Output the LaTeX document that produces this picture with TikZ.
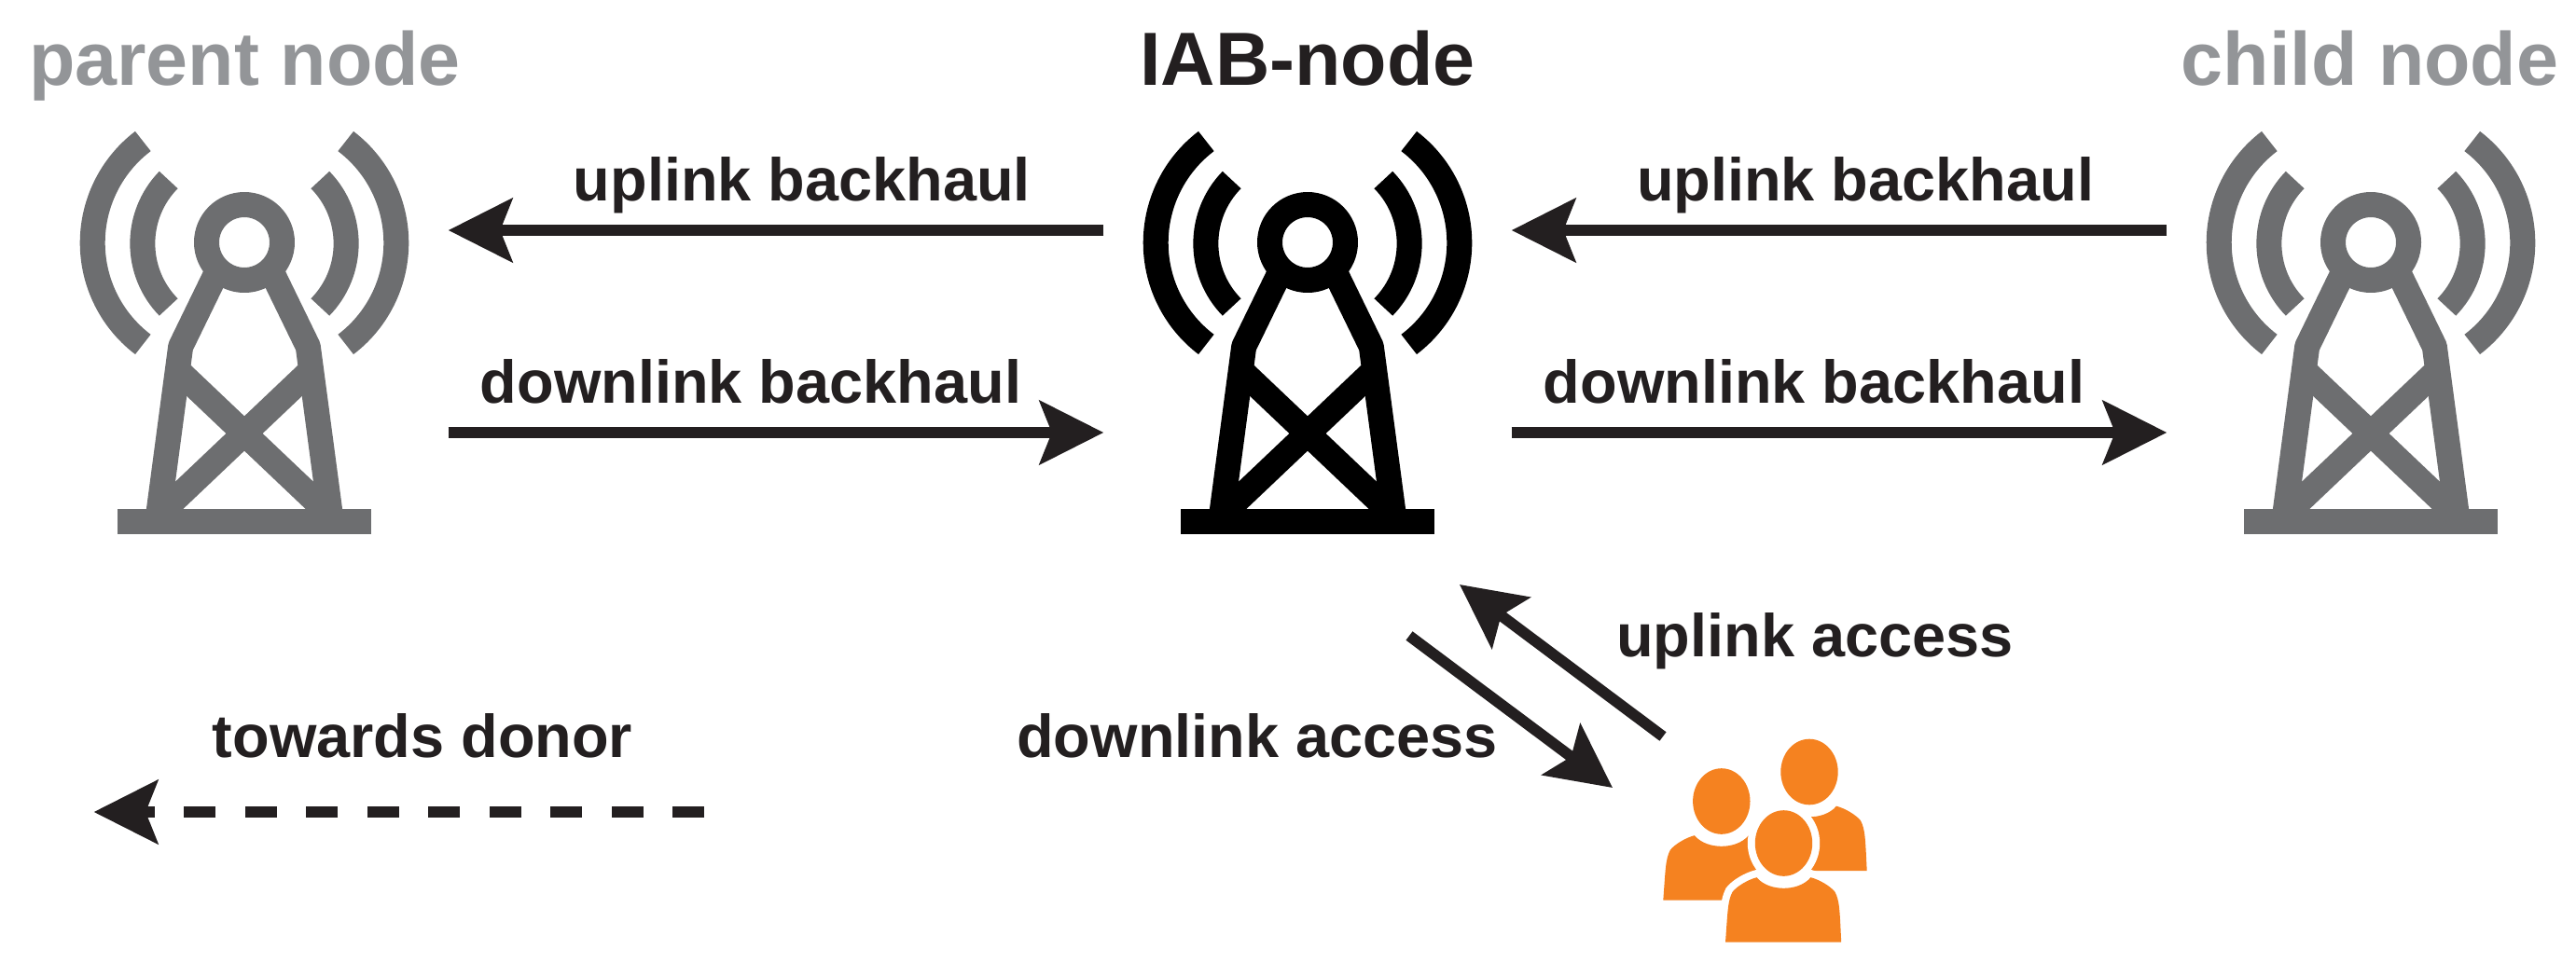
\documentclass[tikz,border=0pt]{standalone}
\usepackage{fontspec}
\setmainfont{Liberation Sans}
\usetikzlibrary{arrows.meta}
\definecolor{r35g31b32}{RGB}{35,31,32}
\definecolor{r109g110b112}{RGB}{109,110,112}
\definecolor{r147g149b152}{RGB}{147,149,152}
\definecolor{r245g130b32}{RGB}{245,130,32}
\tikzset{
  titletext/.style={anchor=base,inner sep=0pt,font=\fontsize{23}{27}\selectfont\bfseries},
  linktext/.style={anchor=base,inner sep=0pt,text=r35g31b32,font=\fontsize{18.45}{22}\selectfont\bfseries},
  linkarrow/.style={draw=r35g31b32,line width=0.118cm,-{Stealth[length=0.685cm,width=0.68cm,inset=0.13cm]}},
  pics/tower/.style={code={
    % box that the links end on
    \node [minimum width=4.36cm,minimum height=4cm,inner sep=0pt] (-box) at (0,0) {};
    \begin{scope}[draw=#1,fill=#1,line width=0.27cm,line join=round]
      \draw (0,0.95) circle (0.405);
      \draw (-0.30,0.62) -- (-0.683,-0.167) -- (-0.92,-1.95);
      \draw (0.30,0.62) -- (0.683,-0.167) -- (0.92,-1.95);
      \draw (-0.72,-0.416) -- (0.895,-1.95);
      \draw (0.72,-0.416) -- (-0.895,-1.95);
      \draw (-1.087,2.035) arc (127.2:232.8:1.368);
      \draw (1.087,2.035) arc (52.8:-52.8:1.368);
      \draw (-0.813,1.62) arc (135.6:224.4:0.975);
      \draw (0.813,1.62) arc (44.4:-44.4:0.975);
      \fill (-1.358,-1.91) rectangle (1.358,-2.183);
    \end{scope}
  }},
  pics/person/.style={code={
    \fill [r245g130b32,preaction={draw=white,line width=0.16cm}] (0,0) ellipse (0.307 and 0.353);
    \fill [r245g130b32,preaction={draw=white,line width=0.16cm}]
      (-0.625,-1.062) .. controls (-0.60,-0.72) and (-0.60,-0.62) .. (-0.55,-0.523)
      .. controls (-0.50,-0.46) and (-0.381,-0.39) .. (-0.29,-0.367)
      .. controls (-0.219,-0.45) and (-0.104,-0.483) .. (0,-0.483)
      .. controls (0.104,-0.483) and (0.219,-0.45) .. (0.29,-0.367)
      .. controls (0.381,-0.39) and (0.50,-0.46) .. (0.55,-0.523)
      .. controls (0.60,-0.62) and (0.60,-0.72) .. (0.617,-1.062) -- cycle;
  }}
}
\begin{document}
\begin{tikzpicture}
\useasboundingbox (0,0) rectangle (27.62,10.32);

% Drawing towers
\pic (parent) at (2.62,6.77) {tower=r109g110b112};
\pic (iab) at (14.02,6.77) {tower=black};
\pic (child) at (25.42,6.77) {tower=r109g110b112};

% Drawing titles
\node [titletext,text=r147g149b152] (parenttitle) at (2.625,9.405) {parent node};
\node [titletext,text=r35g31b32] (iabtitle) at (14.02,9.405) {IAB-node};
\node [titletext,text=r147g149b152] (childtitle) at (25.41,9.405) {child node};

% Drawing backhaul links
\draw [linkarrow] ([yshift=1.08cm]iab-box.west) -- ([yshift=1.08cm]parent-box.east);
\draw [linkarrow] ([yshift=-1.09cm]parent-box.east) -- ([yshift=-1.09cm]iab-box.west);
\draw [linkarrow] ([yshift=1.08cm]child-box.west) -- ([yshift=1.08cm]iab-box.east);
\draw [linkarrow] ([yshift=-1.09cm]iab-box.east) -- ([yshift=-1.09cm]child-box.west);
\node [linktext] (upback1) at (8.60,8.17) {uplink backhaul};
\node [linktext] (downback1) at (8.05,6.00) {downlink backhaul};
\node [linktext] (upback2) at (20.00,8.17) {uplink backhaul};
\node [linktext] (downback2) at (19.45,6.00) {downlink backhaul};

% Drawing users
\pic at (19.40,2.04) {person};
\pic at (18.458,1.725) {person};
\pic at (19.125,1.275) {person};

% Drawing access links
\coordinate (upstart) at (17.83,2.42);
\coordinate (upend) at (15.65,4.05);
\coordinate (downstart) at (15.11,3.50);
\coordinate (downend) at (17.29,1.87);
\draw [linkarrow] (upstart) -- (upend);
\draw [linkarrow] (downstart) -- (downend);
\node [linktext] (upaccess) at (19.46,3.28) {uplink access};
\node [linktext] (downaccess) at (13.48,2.20) {downlink access};

% Drawing donor direction
\coordinate (donorstart) at (7.55,1.61);
\coordinate (donorend) at (1.006,1.61);
\draw [linkarrow,dash pattern=on 0.34cm off 0.315cm] (donorstart) -- (donorend);
\node [linktext] (donortext) at (4.53,2.20) {towards donor};
\end{tikzpicture}
\end{document}
